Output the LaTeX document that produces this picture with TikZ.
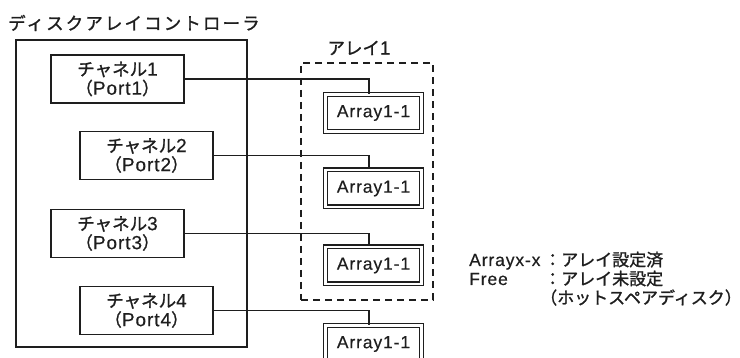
\documentclass[tikz,border=0pt]{standalone}
\usepackage{fontspec}
\setmainfont{Noto Sans CJK JP}[FakeBold=1.2]
\newfontfamily\jpt{Noto Sans CJK JP}[LetterSpace=12,FakeBold=1.2]
\newfontfamily\lat{Liberation Sans}[LetterSpace=5,FakeBold=0.4]
\newcommand{\chl}[1]{{\fontsize{19}{19}\lat #1}}
\usetikzlibrary{calc}
\definecolor{ink}{RGB}{30,30,30}
\begin{document}
\begin{tikzpicture}[x=1pt,y=-1pt,
  every node/.style={text=ink},
  frame/.style={draw=ink, line width=1.2pt, inner sep=0pt},
  chan/.style={draw=ink, line width=1.2pt, minimum width=133pt, minimum height=48pt, inner sep=0pt, align=center, font=\fontsize{17.5}{19}\selectfont},
  arr/.style={draw=ink, double=white, double distance=2.6pt, line width=1.2pt, minimum width=96pt, minimum height=37pt, inner sep=0pt, font=\fontsize{17.5}{19}\lat},
  grp/.style={draw=ink, dashed, dash pattern=on 7pt off 5pt, line width=1.2pt, inner sep=0pt},
  lbl/.style={inner sep=0pt, font=\fontsize{17.5}{19}\selectfont},
  leg/.style={inner sep=0pt, anchor=base west, font=\fontsize{17}{19}\selectfont},
  link/.style={draw=ink, line width=1.2pt}]
\useasboundingbox (0,0) rectangle (740,358);
\clip (0,0) rectangle (740,358);
% controller
\node[frame, minimum width=231pt, minimum height=307pt] (ctrl) at (131.5,193.5) {};
\node[lbl, anchor=west, font=\fontsize{17.5}{19}\jpt] (ttl) at (8,23) {ディスクアレイコントローラ};
% channels
\node[chan] (ch1) at (117.5,79) {チャネル\chl{1}\\（\chl{Port1}）};
\node[chan] (ch2) at (146.5,155.5) {チャネル\chl{2}\\（\chl{Port2}）};
\node[chan] (ch3) at (117.5,233.5) {チャネル\chl{3}\\（\chl{Port3}）};
\node[chan] (ch4) at (146.5,310.5) {チャネル\chl{4}\\（\chl{Port4}）};
% array group
\node[grp, minimum width=132pt, minimum height=237pt] (grp) at (367,181.5) {};
\node[lbl] (grpl) at (359,48) {アレイ\chl{1}};
% arrays
\node[arr] (a1) at (373.5,113) {Array1-1};
\node[arr] (a2) at (373.5,188.5) {Array1-1};
\node[arr] (a3) at (373.5,265.5) {Array1-1};
\node[arr] (a4) at (373.5,344) {Array1-1};
% links
\draw[link] (ch1.east) -| ([xshift=-4.5pt]a1.north);
\draw[link] (ch2.east) -| ([xshift=-4.5pt]a2.north);
\draw[link] (ch3.east) -| ([xshift=-4.5pt]a3.north);
\draw[link] (ch4.east) -| ([xshift=-4.5pt]a4.north);
% legend
\node[leg, font=\fontsize{17.5}{19}\lat] (l1a) at (469,266) {Arrayx-x};
\node[leg] (l1b) at (544,266) {：アレイ設定済};
\node[leg, font=\fontsize{17.5}{19}\lat] (l2a) at (469,285) {Free};
\node[leg] (l2b) at (544,285) {：アレイ未設定};
\node[leg] (l3) at (540,304) {（ホットスペアディスク）};
\end{tikzpicture}
\end{document}
